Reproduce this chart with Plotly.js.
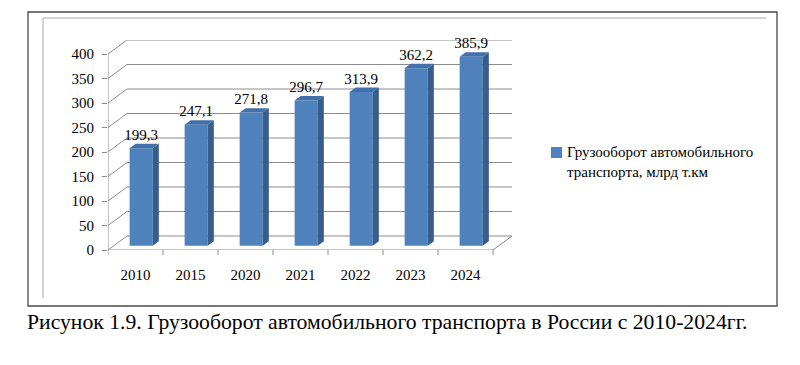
<!DOCTYPE html>
<html>
<head>
<meta charset="utf-8">
<script src="https://cdn.plot.ly/plotly-3.0.1.min.js"></script>
<style>html,body{margin:0;padding:0;background:#fff;}#chart{width:800px;height:365px;}</style>
</head>
<body>
<div id="chart"></div>
<script>
// ---- data ----
const years = ['2010', '2015', '2020', '2021', '2022', '2023', '2024'];
const values = [199.3, 247.1, 271.8, 296.7, 313.9, 362.2, 385.9];
const yTicks = [0, 50, 100, 150, 200, 250, 300, 350, 400];
const seriesName = 'Грузооборот автомобильного<br>транспорта, млрд т.км';
const caption = 'Рисунок 1.9. Грузооборот автомобильного транспорта в России с 2010-2024гг.';

// ---- 3D look parameters ----
const DX = 0.345;   // depth shift in category units
const DY = 28.6;    // depth shift in value units
const F = 0.3;      // depth fraction of bar front
const D = 0.32;     // bar depth fraction
const W = 0.42;     // bar width
const OFF = -W / 2 + F * DX;
const BASE = F * DY;

const W_PX = 800, H_PX = 365;
const M = {l: 108, r: 288, t: 40, b: 115};
const PW = W_PX - M.l - M.r, PH = H_PX - M.t - M.b;
const px = v => (v - M.l) / PW;
const py = v => (H_PX - M.b - v) / PH;

const FONT = 'Liberation Serif';
const idx = years.map((_, i) => i);
const nCat = years.length;
const yMaxTick = yTicks[yTicks.length - 1];

const front = '#4F81BD', side = '#385D8A', topc = '#4170AB', grid = '#8C8C8C';

const bars = {
  type: 'bar', x: idx, y: values, base: values.map(() => BASE),
  width: W, offset: OFF, marker: {color: front, line: {width: 0}},
  hoverinfo: 'skip', showlegend: false
};

const sx = [], sy = [], tx = [], ty = [];
idx.forEach((i, k) => {
  const v = values[k];
  const xl = i + OFF, xr = i + OFF + W;
  const t = BASE + v;
  sx.push(xr, xr + D * DX, xr + D * DX, xr, xr, null);
  sy.push(BASE, BASE + D * DY, t + D * DY, t, BASE, null);
  tx.push(xl, xr, xr + D * DX, xl + D * DX, xl, null);
  ty.push(t, t, t + D * DY, t + D * DY, t, null);
});
const sides = {type: 'scatter', mode: 'lines', x: sx, y: sy, fill: 'toself', fillcolor: side,
  line: {width: 0, color: side}, hoverinfo: 'skip', showlegend: false};
const tops = {type: 'scatter', mode: 'lines', x: tx, y: ty, fill: 'toself', fillcolor: topc,
  line: {width: 0, color: topc}, hoverinfo: 'skip', showlegend: false};
const labels = {type: 'scatter', mode: 'text',
  x: idx.map(i => i + OFF + W / 2), y: values.map(v => BASE + v + D * DY),
  text: values.map(v => v.toFixed(1).replace('.', ',')),
  textposition: 'top center', textfont: {family: FONT, size: 15, color: '#000'},
  hoverinfo: 'skip', showlegend: false, cliponaxis: false};

const shapes = [];
// back wall gridlines with left-wall diagonals
yTicks.forEach(v => {
  shapes.push({type: 'path', xref: 'x', yref: 'y', layer: 'below',
    path: `M ${-0.5} ${v} L ${-0.5 + DX} ${v + DY} L ${nCat - 0.5 + DX} ${v + DY}`,
    line: {color: grid, width: 1}});
});
// floor front edge and right diagonal
shapes.push({type: 'path', xref: 'x', yref: 'y', layer: 'below',
  path: `M ${-0.5} 0 L ${nCat - 0.5} 0 L ${nCat - 0.5 + DX} ${DY}`, line: {color: grid, width: 1}});
// y axis line
shapes.push({type: 'line', xref: 'x', yref: 'y', x0: -0.5, x1: -0.5, y0: 0, y1: yMaxTick,
  line: {color: grid, width: 1}});
// x boundary ticks
for (let i = 0; i <= nCat; i++) {
  shapes.push({type: 'line', xref: 'x', yref: 'paper', x0: i - 0.5, x1: i - 0.5, y0: 0, y1: -5 / PH,
    line: {color: grid, width: 1}});
}
// outer frame and inner frame edges
shapes.push({type: 'rect', xref: 'paper', yref: 'paper', x0: px(28), x1: px(777), y0: py(12), y1: py(306),
  line: {color: '#4A4A4A', width: 1.3}});
shapes.push({type: 'path', xref: 'paper', yref: 'paper',
  path: `M ${px(43)} ${py(298)} L ${px(43)} ${py(18)} L ${px(766)} ${py(18)}`,
  line: {color: '#A6A6A6', width: 1}});
// legend key
shapes.push({type: 'rect', xref: 'paper', yref: 'paper', x0: px(551), x1: px(562), y0: py(147), y1: py(158),
  fillcolor: front, line: {width: 0}});

const annotations = [
  {xref: 'paper', yref: 'paper', x: px(565), y: py(162), xanchor: 'left', yanchor: 'middle',
   text: seriesName, showarrow: false, align: 'left', font: {family: FONT, size: 15, color: '#000'}},
  {xref: 'paper', yref: 'paper', x: px(25), y: py(322), xanchor: 'left', yanchor: 'middle',
   text: caption, showarrow: false, font: {family: FONT, size: 21.7, color: '#000'}}
];

const layout = {
  width: W_PX, height: H_PX, margin: M,
  paper_bgcolor: '#fff', plot_bgcolor: 'rgba(0,0,0,0)',
  showlegend: false,
  xaxis: {range: [-0.5, nCat - 0.5 + DX], tickvals: idx, ticktext: years, ticks: '',
    showgrid: false, zeroline: false, showline: false, fixedrange: true,
    ticklabelstandoff: 14, tickfont: {family: FONT, size: 15, color: '#000'}},
  yaxis: {range: [0, yMaxTick + DY], tickvals: yTicks, ticks: 'outside', ticklen: 5,
    tickcolor: grid, showgrid: false, zeroline: false, showline: false, fixedrange: true,
    ticklabelstandoff: 5, tickfont: {family: FONT, size: 15, color: '#000'}},
  shapes: shapes, annotations: annotations
};

Plotly.newPlot('chart', [bars, sides, tops, labels], layout, {displayModeBar: false, staticPlot: true});
</script>
</body>
</html>
